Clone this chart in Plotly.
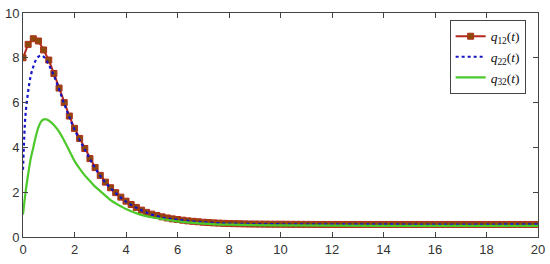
import plotly.graph_objects as go

# time grid for q12 (markers every 0.2)
t12 = [round(0.2 * i, 1) for i in range(101)]
q12 = [8.0, 8.6, 8.85, 8.75, 8.35, 7.9, 7.3, 6.65, 6.0, 5.4,
       4.85, 4.4, 3.95, 3.5, 3.1, 2.75, 2.45, 2.2, 1.98, 1.78,
       1.6, 1.45, 1.32, 1.2, 1.1, 1.02, 0.96, 0.9, 0.85, 0.81,
       0.78, 0.75, 0.72, 0.7, 0.68, 0.66, 0.645, 0.63, 0.62, 0.61,
       0.6, 0.595, 0.59, 0.585, 0.58, 0.578, 0.575, 0.573, 0.571, 0.57,
       0.57, 0.568, 0.566, 0.565, 0.564, 0.563, 0.562, 0.561, 0.56, 0.56,
       0.56, 0.56, 0.56, 0.56, 0.56, 0.56, 0.56, 0.56, 0.56, 0.56,
       0.56, 0.56, 0.56, 0.56, 0.56, 0.56, 0.56, 0.56, 0.56, 0.56,
       0.56, 0.56, 0.56, 0.56, 0.56, 0.56, 0.56, 0.56, 0.56, 0.56,
       0.56, 0.56, 0.56, 0.56, 0.56, 0.56, 0.56, 0.56, 0.56, 0.56,
       0.56]

t22 = [0, 0.05, 0.1, 0.2, 0.3, 0.4, 0.5, 0.6, 0.7, 0.8, 0.9, 1.0, 1.2, 1.4, 1.6,
       1.8, 2.0, 2.4, 2.8, 3.2, 3.6, 4.0, 4.5, 5.0, 5.5, 6.0, 7.0, 8.0, 10.0, 14.0, 20.0]
q22 = [3.0, 4.5, 5.5, 6.5, 7.2, 7.6, 7.9, 8.05, 8.1, 8.05, 7.9, 7.7, 7.2, 6.6, 5.95,
       5.35, 4.8, 3.9, 3.08, 2.43, 1.96, 1.58, 1.25, 1.0, 0.85, 0.77, 0.66, 0.6, 0.57, 0.56, 0.56]

t32 = [0, 0.1, 0.2, 0.3, 0.4, 0.5, 0.6, 0.7, 0.8, 0.9, 1.0, 1.2, 1.4, 1.6, 1.8,
       2.0, 2.2, 2.4, 2.6, 2.8, 3.0, 3.2, 3.4, 3.6, 3.8, 4.0, 4.5, 5.0, 5.5, 6.0,
       7.0, 8.0, 10.0, 14.0, 20.0]
q32 = [1.0, 2.0, 2.8, 3.5, 4.0, 4.5, 4.9, 5.15, 5.25, 5.25, 5.2, 5.0, 4.7, 4.3, 3.85,
       3.4, 3.05, 2.75, 2.5, 2.25, 2.05, 1.85, 1.65, 1.5, 1.37, 1.25, 1.02, 0.88, 0.78, 0.7,
       0.6, 0.55, 0.52, 0.5, 0.5]

xticks = [0, 2, 4, 6, 8, 10, 12, 14, 16, 18, 20]
yticks = [0, 2, 4, 6, 8, 10]

fig = go.Figure()
fig.add_trace(go.Scatter(x=t12, y=q12, mode='lines+markers', name='<i>q</i><sub>12</sub>(<i>t</i>)',
                         line=dict(color='#b4281e', width=2),
                         marker=dict(symbol='square', size=6, color='#8c4a0c',
                                     line=dict(color='#b0301a', width=1))))
fig.add_trace(go.Scatter(x=t22, y=q22, mode='lines', name='<i>q</i><sub>22</sub>(<i>t</i>)',
                         line=dict(color='#1414c8', width=2.2, dash='dot', shape='spline')))
fig.add_trace(go.Scatter(x=t32, y=q32, mode='lines', name='<i>q</i><sub>32</sub>(<i>t</i>)',
                         line=dict(color='#4cc82a', width=2.2, shape='spline')))

axis_style = dict(showline=True, linecolor='#444', linewidth=1, mirror='ticks',
                  ticks='inside', ticklen=5, tickcolor='#444', showgrid=False, zeroline=False,
                  automargin=False, ticklabeloverflow='allow',
                  tickfont=dict(family='Liberation Sans, Arial', size=13, color='#333'))
fig.update_xaxes(range=[0, 20], tickvals=xticks, **axis_style)
fig.update_yaxes(range=[0, 10], tickvals=yticks, **axis_style)

fig.update_layout(
    width=550, height=264,
    margin=dict(l=23, r=12, t=13, b=27),
    plot_bgcolor='white', paper_bgcolor='white',
    showlegend=True,
    legend=dict(x=0.976, y=0.969, xanchor='right', yanchor='top',
                traceorder='normal', bgcolor='white', bordercolor='#444', borderwidth=1,
                font=dict(family='Liberation Serif, Times New Roman', size=13.5, color='#111'),
                itemwidth=30),
)

# drop the default page margin so the figure sits at the window's corner
fig.write_html("out.html", config={'displayModeBar': False},
               post_script="document.body.style.margin='0';")
